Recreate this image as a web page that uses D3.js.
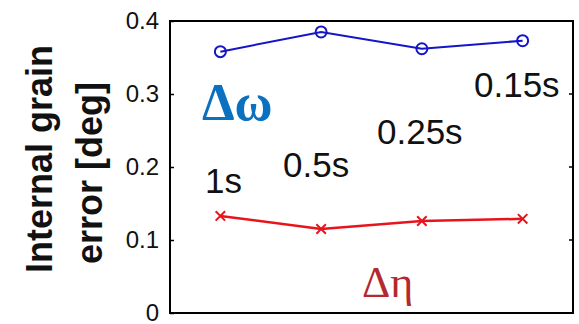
<!DOCTYPE html>
<html>
<head>
<meta charset="utf-8">
<script src="https://cdn.jsdelivr.net/npm/d3@7"></script>
<style>
  body { margin: 0; background: #fff; }
  svg { display: block; }
</style>
</head>
<body>
<div id="chart"></div>
<script>
// data
let steps = [1, 2, 3, 4]
let stepLabels = ["1s", "0.5s", "0.25s", "0.15s"]
let omegaErr = [0.358, 0.385, 0.362, 0.373]
let etaErr = [0.133, 0.115, 0.126, 0.129]
let yTicks = [0, 0.1, 0.2, 0.3, 0.4]

let W = 579, H = 324
let plotL = 170, plotR = 573, plotT = 21, plotB = 313
let sans = "Liberation Sans, Arial, sans-serif"
let serif = "Liberation Serif, Times New Roman, serif"

let svg = d3.select("#chart").append("svg")
    .attr("width", W)
    .attr("height", H)

let x = d3.scaleLinear().domain([0.5, 4.5]).range([plotL, plotR])
let y = d3.scaleLinear().domain([0, 0.4]).range([plotB, plotT])

// box
svg.append("rect")
    .attr("x", plotL).attr("y", plotT)
    .attr("width", plotR - plotL).attr("height", plotB - plotT)
    .attr("fill", "none").attr("stroke", "#000").attr("stroke-width", 2)

// left axis, ticks pointing inside
let yAxis = d3.axisLeft(y).tickValues(yTicks)
    .tickFormat(d => d == 0 ? "0" : d3.format(".1f")(d))
    .tickSizeInner(-4).tickSizeOuter(0).tickPadding(11)
let ga = svg.append("g").attr("transform", "translate(" + plotL + ",0)").call(yAxis)
ga.select(".domain").remove()
ga.selectAll("line").attr("stroke", "#000").attr("stroke-width", 1.5)
ga.selectAll("text").attr("fill", "#111")
    .style("font-family", sans).style("font-size", "24px")

// right side ticks
svg.append("g").selectAll("line")
    .data(yTicks.slice(1, 4))
    .enter().append("line")
    .attr("x1", plotR).attr("x2", plotR - 4)
    .attr("y1", d => y(d)).attr("y2", d => y(d))
    .attr("stroke", "#000").attr("stroke-width", 1.5)

// y title, two lines, rotated
let title = [["Internal grain", 52, 159], ["error [deg]", 102, 173]]
svg.selectAll("text.ytitle")
    .data(title)
    .enter().append("text")
    .attr("class", "ytitle")
    .attr("transform", d => "translate(" + d[1] + "," + d[2] + ") rotate(-90)")
    .attr("text-anchor", "middle")
    .style("font-family", sans)
    .style("font-size", "36px")
    .style("font-weight", "bold")
    .attr("fill", "#111")
    .text(d => d[0])

let line = d3.line()
    .x((d, i) => x(steps[i]))
    .y(d => y(d))

// omega series, circles
svg.append("path").datum(omegaErr)
    .attr("d", line)
    .attr("fill", "none").attr("stroke", "#1414c8").attr("stroke-width", 2)
svg.append("g").selectAll("circle")
    .data(omegaErr)
    .enter().append("circle")
    .attr("cx", (d, i) => x(steps[i]))
    .attr("cy", d => y(d))
    .attr("r", 5.5)
    .attr("fill", "none").attr("stroke", "#1414c8").attr("stroke-width", 2)

// eta series, x markers
svg.append("path").datum(etaErr)
    .attr("d", line)
    .attr("fill", "none").attr("stroke", "#e8141c").attr("stroke-width", 2.5)
let cross = d3.symbol().type(d3.symbolX).size(60)
svg.append("g").selectAll("path")
    .data(etaErr)
    .enter().append("path")
    .attr("d", cross)
    .attr("transform", (d, i) => "translate(" + x(steps[i]) + "," + y(d) + ")")
    .attr("fill", "none").attr("stroke", "#e8141c").attr("stroke-width", 2)

// time step labels
let labelPos = [[205, 193], [283, 177], [377, 144], [474, 97]]
svg.selectAll("text.step")
    .data(stepLabels)
    .enter().append("text")
    .attr("class", "step")
    .attr("x", (d, i) => labelPos[i][0])
    .attr("y", (d, i) => labelPos[i][1])
    .style("font-family", sans)
    .style("font-size", "35px")
    .attr("fill", "#111")
    .text(d => d)

// greek series labels
svg.append("text")
    .attr("x", 202).attr("y", 120)
    .style("font-family", serif)
    .style("font-size", "52px")
    .style("font-weight", "bold")
    .attr("fill", "#0a70c0")
    .text("Δω")
svg.append("text")
    .attr("x", 362).attr("y", 297)
    .style("font-family", serif)
    .style("font-size", "44px")
    .attr("fill", "#b42830")
    .text("Δη")
</script>
</body>
</html>
